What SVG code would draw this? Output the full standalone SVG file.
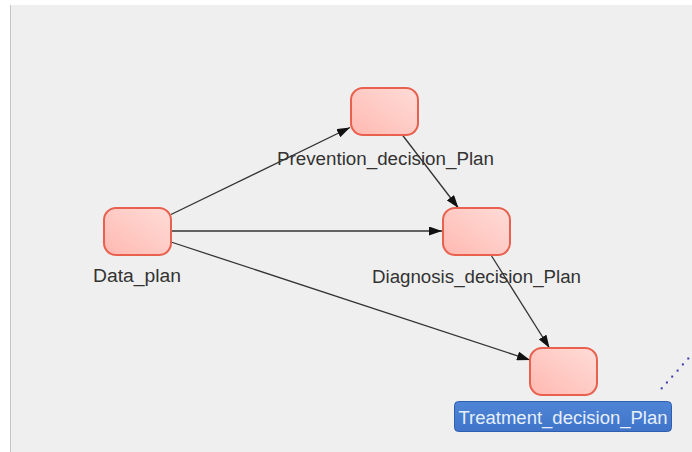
<svg xmlns="http://www.w3.org/2000/svg" width="692" height="452" viewBox="0 0 692 452">
  <defs>
    <linearGradient id="nodeFill" x1="0" y1="1" x2="1" y2="0">
      <stop offset="0" stop-color="#ffb9b1"/>
      <stop offset="1" stop-color="#ffdcd8"/>
    </linearGradient>
    <linearGradient id="selFill" x1="0" y1="0" x2="0" y2="1">
      <stop offset="0" stop-color="#4f85d6"/>
      <stop offset="1" stop-color="#3f74c8"/>
    </linearGradient>
    <marker id="arrow" viewBox="0 0 13 9" refX="13" refY="4.5" markerWidth="13" markerHeight="9" markerUnits="userSpaceOnUse" orient="auto">
      <path d="M0,0 L13,4.5 L0,9 Z" fill="#111"/>
    </marker>
    <style>
      .node { fill: url(#nodeFill); stroke: #e8604e; stroke-width: 2; }
      .label { font-family: "Liberation Sans", Arial, sans-serif; font-size: 18px; fill: #333; text-anchor: middle; }
      .edge { stroke: #333; stroke-width: 1.3; fill: none; marker-end: url(#arrow); }
      .dot { fill: #3a3aa8; }
    </style>
  </defs>

  <!-- canvas -->
  <rect x="0" y="0" width="692" height="452" fill="#ffffff"/>
  <rect x="10" y="5" width="682" height="447" fill="#efefef"/>
  <line x1="10.5" y1="5" x2="10.5" y2="452" stroke="#c4c4c4" stroke-width="1"/>

  <!-- connectors -->
  <g id="edges">
    <line class="edge" x1="171" y1="214.5" x2="350" y2="127.5"/>
    <line class="edge" x1="172" y1="231" x2="442" y2="231"/>
    <line class="edge" x1="171" y1="242" x2="530" y2="360"/>
    <line class="edge" x1="402.4" y1="135" x2="458.4" y2="208"/>
    <line class="edge" x1="491" y1="255" x2="549.5" y2="348"/>
  </g>

  <g id="Data_plan">
    <rect class="node" x="104" y="208" width="67" height="47" rx="12"/>
    <text class="label" x="137" y="282" textLength="88" lengthAdjust="spacingAndGlyphs">Data_plan</text>
  </g>

  <g id="Prevention_decision_Plan">
    <rect class="node" x="351" y="88" width="67" height="47" rx="12"/>
    <text class="label" x="385.5" y="165" textLength="217" lengthAdjust="spacingAndGlyphs">Prevention_decision_Plan</text>
  </g>

  <g id="Diagnosis_decision_Plan">
    <rect class="node" x="443" y="208" width="67" height="47" rx="12"/>
    <text class="label" x="476.5" y="283" textLength="209" lengthAdjust="spacingAndGlyphs">Diagnosis_decision_Plan</text>
  </g>

  <g id="Treatment_decision_Plan">
    <rect class="node" x="530" y="348" width="67" height="47" rx="12"/>
    <rect x="454.5" y="401.5" width="217" height="30" rx="4" fill="url(#selFill)" stroke="#2f5fae" stroke-width="1"/>
    <text class="label" x="563" y="423.5" textLength="209" lengthAdjust="spacingAndGlyphs" style="fill:#e6efff">Treatment_decision_Plan</text>
  </g>

  <!-- dotted rubber-band trace -->
  <g id="trace">
    <rect class="dot" x="660.7" y="387.3" width="2" height="2"/>
    <rect class="dot" x="665.9" y="381.5" width="2" height="2"/>
    <rect class="dot" x="671.2" y="375.6" width="2" height="2"/>
    <rect class="dot" x="676.6" y="369.6" width="2" height="2"/>
    <rect class="dot" x="681.9" y="363.4" width="2" height="2"/>
    <rect class="dot" x="687.3" y="357.5" width="2" height="2"/>
  </g>
</svg>
